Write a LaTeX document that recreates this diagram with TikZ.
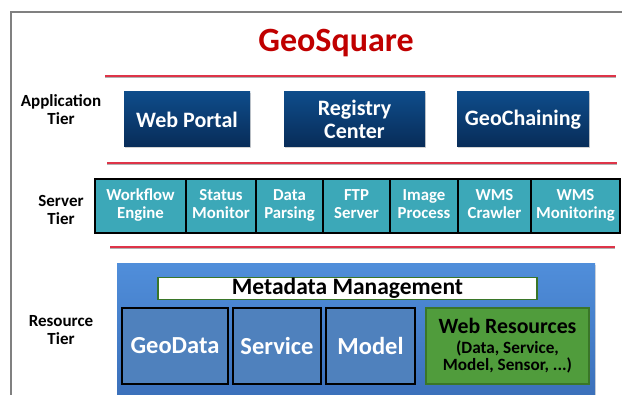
\documentclass[tikz,border=0pt]{standalone}
\usepackage{fontspec}
\setmainfont{Carlito}
\usetikzlibrary{shadows}
\definecolor{appTop}{RGB}{14,76,138}
\definecolor{appBot}{RGB}{8,44,88}
\definecolor{srvTeal}{RGB}{60,168,184}
\definecolor{resTop}{RGB}{80,142,218}
\definecolor{resBot}{RGB}{56,108,182}
\definecolor{resInner}{RGB}{79,129,189}
\definecolor{resGreen}{RGB}{80,156,60}
\definecolor{resGreenDark}{RGB}{58,118,40}
\definecolor{tierRed}{RGB}{222,52,72}
\definecolor{titleRed}{RGB}{192,0,0}
\definecolor{frameGray}{RGB}{128,128,128}
\newcommand{\srvlines}[2]{\raisebox{-1.5pt}{\begin{tabular}{@{}c@{}}#1\\#2\end{tabular}}}
\begin{document}
\begin{tikzpicture}[x=1pt,y=-1pt,
  tierlabel/.style={font=\bfseries\fontsize{17}{18}\selectfont, align=center, inner sep=0},
  appbox/.style={inner sep=0, outer sep=0, text=white, align=center,
    font=\bfseries\fontsize{22}{23}\selectfont, top color=appTop, bottom color=appBot,
    drop shadow={shadow xshift=1.2pt, shadow yshift=-1.2pt, opacity=0.35}},
  srvbox/.style={inner sep=0, outer sep=0, draw=black, line width=2pt, fill=srvTeal,
    text=white, align=center, font=\bfseries\fontsize{16.8}{18}\selectfont},
  sepline/.style={draw=tierRed, line width=1.8pt},
  resinner/.style={inner sep=0, outer sep=0, draw=black, line width=2pt, fill=resInner,
    text=white, font=\bfseries\fontsize{24.5}{26}\selectfont, align=center},
]
\useasboundingbox (0,0) rectangle (622,395);
\clip (0,0) rectangle (622,395);
% frame
\coordinate (fr1) at (660,12);
\coordinate (fr2) at (11,12);
\coordinate (fr3) at (11,420);
\draw[frameGray, line width=1.5pt] (fr1) -- (fr2) -- (fr3);
% title
\node[font=\bfseries\fontsize{34}{36}\selectfont, text=titleRed, inner sep=0] (title) at (336,43) {GeoSquare};
% separator lines
\coordinate (l1a) at (105,76); \coordinate (l1b) at (616,76);
\coordinate (l2a) at (107,163); \coordinate (l2b) at (617,163);
\coordinate (l3a) at (110,247); \coordinate (l3b) at (615,247);
\draw[black!30, line width=1pt] ([yshift=-1.2pt]l1a) -- ([yshift=-1.2pt]l1b);
\draw[black!30, line width=1pt] ([yshift=-1.2pt]l2a) -- ([yshift=-1.2pt]l2b);
\draw[black!30, line width=1pt] ([yshift=-1.2pt]l3a) -- ([yshift=-1.2pt]l3b);
\draw[sepline] (l1a) -- (l1b);
\draw[sepline] (l2a) -- (l2b);
\draw[sepline] (l3a) -- (l3b);
% tier labels
\node[tierlabel] (apptier) at (61,110) {Application\\Tier};
\node[tierlabel] (srvtier) at (61,210) {Server\\Tier};
\node[tierlabel] (restier) at (61,330) {Resource\\Tier};
% application tier
\node[appbox, minimum width=126pt, minimum height=55pt] (webportal) at (187,119.5) {Web Portal};
\node[appbox, minimum width=141pt, minimum height=55pt] (registry) at (354.5,119.5) {Registry\\Center};
\node[appbox, minimum width=132pt, minimum height=55pt] (geochain) at (523,119.5) {GeoChaining};
% server tier
\node[srvbox, minimum width=91pt, minimum height=54pt] (wf) at (140.5,206) {\srvlines{Workflow}{Engine}};
\node[srvbox, minimum width=70pt, minimum height=54pt] (sm) at (221,206) {\srvlines{Status}{Monitor}};
\node[srvbox, minimum width=67pt, minimum height=54pt] (dp) at (289.5,206) {\srvlines{Data}{Parsing}};
\node[srvbox, minimum width=67pt, minimum height=54pt] (ftp) at (356.5,206) {\srvlines{FTP}{Server}};
\node[srvbox, minimum width=68pt, minimum height=54pt] (ip) at (424,206) {\srvlines{Image}{Process}};
\node[srvbox, minimum width=73pt, minimum height=54pt] (wc) at (494.5,206) {\srvlines{WMS}{Crawler}};
\node[srvbox, minimum width=89pt, minimum height=54pt] (wm) at (575.5,206) {\srvlines{WMS}{Monitoring}};
% resource tier
\node[inner sep=0, outer sep=0, minimum width=478pt, minimum height=150pt, top color=resTop, bottom color=resBot,
  drop shadow={shadow xshift=1.2pt, shadow yshift=-1.2pt, opacity=0.3}] (resbox) at (356,339) {};
\node[inner sep=0, outer sep=0, draw=resGreenDark, line width=1.2pt, fill=white, minimum width=379pt, minimum height=22pt,
  font=\bfseries\fontsize{23.5}{24}\selectfont] (meta) at (347.5,288.5) {Metadata Management};
\node[resinner, minimum width=106pt, minimum height=76pt] (geodata) at (175,346) {\raisebox{-2pt}{GeoData}};
\node[resinner, minimum width=88pt, minimum height=76pt] (service) at (277,346) {\raisebox{-2pt}{Service}};
\node[resinner, minimum width=89pt, minimum height=76pt] (model) at (370.5,346) {\raisebox{-2pt}{Model}};
\node[inner sep=0, outer sep=0, draw=resGreenDark, line width=1.2pt, fill=resGreen, minimum width=163pt, minimum height=76pt,
  align=center, font=\bfseries\fontsize{17.2}{17}\selectfont] (webres) at (507.5,346)
  {{\fontsize{21.8}{22}\selectfont Web Resources}\\[3pt](Data, Service,\\Model, Sensor, ...)};
\end{tikzpicture}
\end{document}
